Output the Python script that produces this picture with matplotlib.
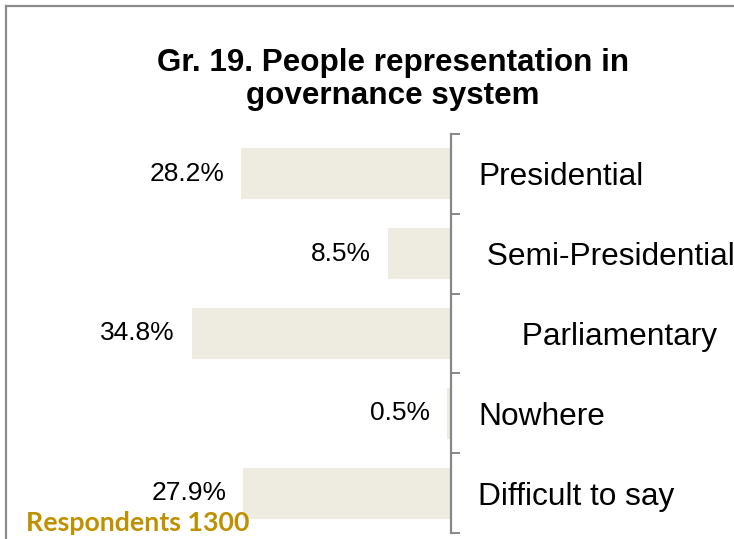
import matplotlib.pyplot as plt
from matplotlib.lines import Line2D

categories = ["Presidential", " Semi-Presidential", "     Parliamentary", "Nowhere", "Difficult to say"]
shares = [28.2, 8.5, 34.8, 0.5, 27.9]

TITLE = "Gr. 19. People representation in\ngovernance system"
NOTE = "Respondents 1300"

BAR_COLOR = "#EEECE1"
AXIS_COLOR = "#878787"
NOTE_COLOR = "#BF9000"

W, H = 734, 539
fig = plt.figure(figsize=(W / 100, H / 100), dpi=100)
fig.patch.set_facecolor("white")

# plot area: value axis grows to the left of the category line
ax = fig.add_axes([60 / W, 1 - 533 / H, 391 / W, 399 / H])
ax.barh(range(len(shares)), shares, height=0.64, color=BAR_COLOR)
ax.set_xlim(52.5, 0)
ax.set_ylim(len(shares) - 0.5, -0.5)

for s in ["left", "top", "bottom"]:
    ax.spines[s].set_visible(False)
ax.spines["right"].set_color(AXIS_COLOR)
ax.spines["right"].set_linewidth(1.6)
ax.set_xticks([])

ax.yaxis.tick_right()
ax.set_yticks(range(len(categories)))
ax.set_yticklabels(categories, fontsize=22.8, family="Liberation Sans")
ax.set_yticks([i - 0.5 for i in range(len(categories) + 1)], minor=True)
ax.tick_params(axis="y", which="major", length=0, pad=19.4)
ax.tick_params(axis="y", which="minor", length=6.5, width=1.4, color=AXIS_COLOR, direction="out")

for i, v in enumerate(shares):
    ax.annotate(f"{v}%", xy=(v, i), xytext=(-12.2, 0), textcoords="offset points",
                ha="right", va="center", fontsize=19, family="Liberation Sans")

fig.text(393 / W, 1 - 48 / H, TITLE, ha="center", va="top", fontsize=22.6,
         fontweight="bold", family="Liberation Sans", linespacing=1.15)

fig.text(26 / W, 1 - 531 / H, NOTE, ha="left", va="baseline", fontsize=19.3,
         fontweight="bold", family="Lato", color=NOTE_COLOR)

# outer frame, running off the right and bottom edges
fig.add_artist(Line2D([6 / W, 6 / W], [-0.05, 1 - 6 / H], color="#8C8C8C", lw=1.6,
                      transform=fig.transFigure))
fig.add_artist(Line2D([6 / W, 1.05], [1 - 6 / H, 1 - 6 / H], color="#8C8C8C", lw=1.6,
                      transform=fig.transFigure))

fig.savefig("out.png", dpi=100)
